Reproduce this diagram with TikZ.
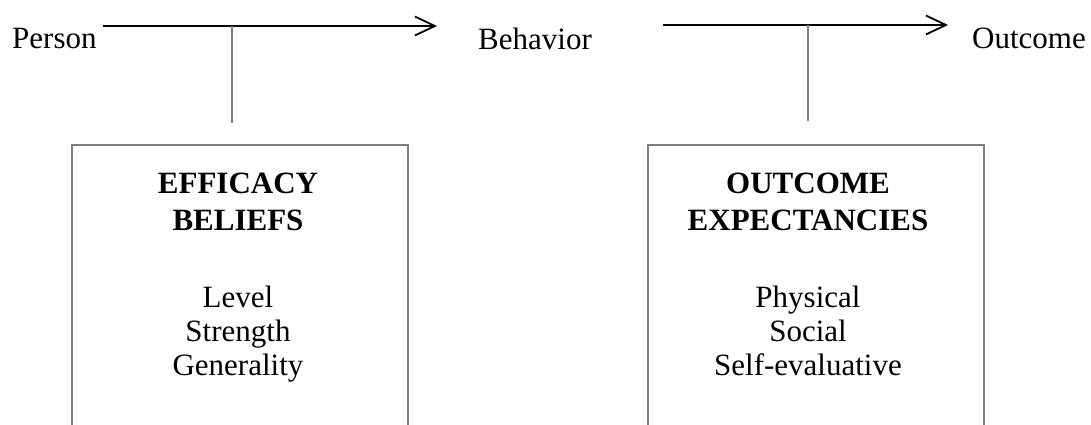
\documentclass[tikz,border=0pt]{standalone}
\usepackage{fontspec}
\setmainfont{Liberation Serif}
\usetikzlibrary{arrows.meta}
\definecolor{linegray}{HTML}{7F7F7F}
\tikzset{
  lbl/.style={inner sep=0pt, anchor=base, font=\fontsize{31}{35}\selectfont},
  ttl/.style={inner sep=0pt, anchor=base, align=center, font=\fontsize{31}{37}\selectfont\bfseries},
  itm/.style={inner sep=0pt, anchor=base, align=center, font=\fontsize{31}{34}\selectfont},
  flow/.style={draw=black, line width=1.8pt, -{Straight Barb[length=20pt,width=19pt,line width=1.8pt]}},
  link/.style={draw=linegray, line width=1.5pt},
  frame/.style={draw=linegray, line width=1.6pt}
}
\begin{document}
\begin{tikzpicture}[x=1pt,y=-1pt]
\useasboundingbox (0,0) rectangle (1091,425);
% top labels
\node[lbl, anchor=base west] (person) at (12,49) {Person};
\node[lbl, anchor=base west] (behavior) at (478,50) {Behavior};
\node[lbl, anchor=base west] (outcome) at (972,49) {Outcome};
% arrow endpoints
\coordinate (a1s) at (103,26);
\coordinate (a1e) at (437,26);
\coordinate (a2s) at (663,25);
\coordinate (a2e) at (948,25);
\coordinate (v1t) at (232,26);
\coordinate (v1b) at (232,123);
\coordinate (v2t) at (808,25);
\coordinate (v2b) at (808,121);
\draw[flow] (a1s) -- (a1e);
\draw[flow] (a2s) -- (a2e);
\draw[link] (v1t) -- (v1b);
\draw[link] (v2t) -- (v2b);
% boxes (open at the bottom)
\draw[frame] (72,425) -- (72,145) -- (408,145) -- (408,425);
\draw[frame] (648,425) -- (648,145) -- (984,145) -- (984,425);
% box texts (base anchor = last line)
\node[ttl] (eb) at (238,230) {EFFICACY\\BELIEFS};
\node[itm] (ebi) at (238,375) {Level\\Strength\\Generality};
\node[ttl] (oe) at (808,230) {OUTCOME\\EXPECTANCIES};
\node[itm] (oei) at (808,375) {Physical\\Social\\Self-evaluative};
\end{tikzpicture}
\end{document}
